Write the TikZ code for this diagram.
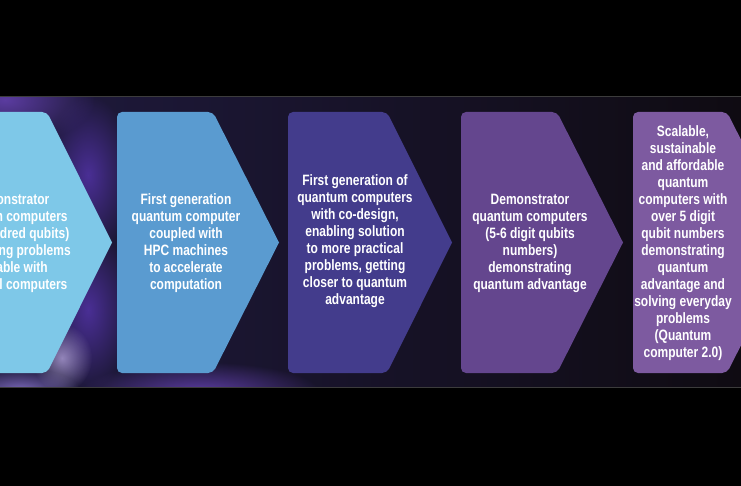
\documentclass[tikz,border=0pt]{standalone}
\usepackage{fontspec}
\newfontfamily\cf[FakeStretch=0.8]{Liberation Sans}
\usetikzlibrary{fadings}
\tikzfading[name=glowfade, inner color=transparent!0, outer color=transparent!100]
\definecolor{chA}{HTML}{7EC8E8}
\definecolor{chB}{HTML}{5A9BD0}
\definecolor{chC}{HTML}{433C8C}
\definecolor{chD}{HTML}{64468E}
\definecolor{chE}{HTML}{7D5AA0}
\definecolor{bgL}{HTML}{1F1A3E}
\definecolor{bgR}{HTML}{0F0B12}
\definecolor{glowP}{HTML}{5B3CA0}
\definecolor{glowQ}{HTML}{4A2F95}
\definecolor{glowL}{HTML}{B8A8E0}
\definecolor{glowM}{HTML}{7A68B8}
\definecolor{rule}{HTML}{3C3C3C}
\tikzset{
  chevtext/.style={text=white, align=center, inner sep=0pt,
    font=\cf\bfseries\fontsize{15}{17}\selectfont},
  glow/.style={path fading=glowfade},
  bandrule/.style={draw=rule, line width=1pt}
}
\newcommand\chevshape[4]{%
  \fill[#4, rounded corners=5pt] (#3,242.5) -- (#2,112) -- (#1,112) -- (#1,373) -- (#2,373) -- (#3,242.5);}
\begin{document}
\begin{tikzpicture}[x=1pt,y=-1pt]
\fill[black] (0,0) rectangle (741,486);
\useasboundingbox (0,0) rectangle (741,486);
\begin{scope}
\clip (0,97) rectangle (741,387);
\shade[left color=bgL, right color=bgR] (0,97) rectangle (741,387);
\fill[glowP, glow] (5,100) ellipse [x radius=90, y radius=45];
\fill[glowQ, glow] (88,175) ellipse [x radius=45, y radius=80];
\fill[glowQ, glow] (88,310) ellipse [x radius=45, y radius=80];
\fill[glowP, glow] (200,392) ellipse [x radius=120, y radius=30];
\fill[glowM, glow] (20,390) ellipse [x radius=60, y radius=22];
\fill[glowL, glow, opacity=0.75] (62,358) ellipse [x radius=30, y radius=34];
\chevshape{-50}{47}{112}{chA}
\chevshape{117}{213}{279}{chB}
\chevshape{288}{387}{452}{chC}
\chevshape{461}{557}{623}{chD}
\chevshape{633}{727}{793}{chE}
\node[chevtext] (c1) at (10,243) {Demonstrator\\quantum computers\\(few hundred qubits)\\addressing problems\\solvable with\\classical computers};
\node[chevtext] (c2) at (186,243) {First generation\\quantum computer\\coupled with\\HPC machines\\to accelerate\\computation};
\node[chevtext] (c3) at (355,241) {First generation of\\quantum computers\\with co-design,\\enabling solution\\to more practical\\problems, getting\\closer to quantum\\advantage};
\node[chevtext] (c4) at (530,243) {Demonstrator\\quantum computers\\(5-6 digit qubits\\numbers)\\demonstrating\\quantum advantage};
\node[chevtext] (c5) at (683,243) {Scalable,\\sustainable\\and affordable\\quantum\\computers with\\over 5 digit\\qubit numbers\\demonstrating\\quantum\\advantage and\\solving everyday\\problems\\(Quantum\\computer 2.0)};
\end{scope}
\draw[bandrule] (0,96.5) -- (741,96.5);
\draw[bandrule] (0,387.5) -- (741,387.5);
\end{tikzpicture}
\end{document}
